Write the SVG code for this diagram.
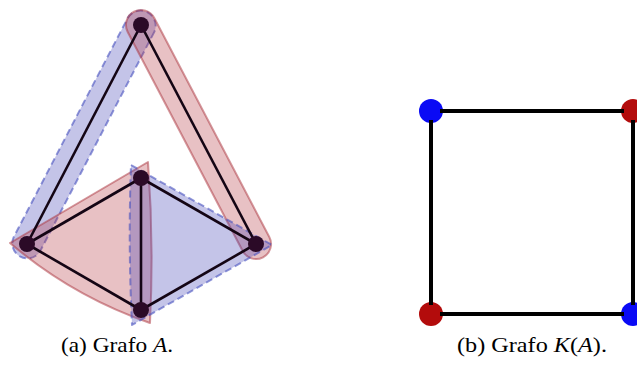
<svg xmlns="http://www.w3.org/2000/svg" width="637" height="367" viewBox="0 0 637 367">
<style>
.blue{fill:rgb(60,60,180);fill-opacity:0.3;stroke:rgb(70,80,190);stroke-opacity:0.6;stroke-width:2;stroke-dasharray:7 4;stroke-linejoin:round}
.red{fill:rgb(180,50,60);fill-opacity:0.3;stroke:rgb(170,50,60);stroke-opacity:0.5;stroke-width:2;stroke-linejoin:round}
.e{stroke:#140514;stroke-width:2.6;fill:none}
.v{fill:#2b0a27}
.k{stroke:#000;stroke-width:4;fill:none}
.kb{fill:#0a0af5}
.kr{fill:#b30c0c}
.cap{font-family:"Liberation Serif","DejaVu Serif",serif;font-size:21px;fill:#000}
</style>
<g id="hyperedges">
<path class="blue" d="M154.3,31.9 L40.3,250.9 A15,15 0 0 1 13.7,237.1 L127.7,18.1 A15,15 0 0 1 154.3,31.9 Z"/>
<path class="red" d="M154.3,18 L269.3,237 A15,15 0 0 1 242.7,251 L127.7,32 A15,15 0 0 1 154.3,18 Z"/>
<path class="red" d="M10,243 L148,162 Q154,242 150,323 Q72,296 10,243 Z"/>
<path class="blue" d="M131,165 L272,245 L132,325 Q128,245 131,165 Z"/>
</g>
<g id="edges">
<line class="e" x1="141" y1="25" x2="27" y2="244"/>
<line class="e" x1="141" y1="25" x2="256" y2="244"/>
<line class="e" x1="27" y1="244" x2="141" y2="178"/>
<line class="e" x1="27" y1="244" x2="141" y2="310"/>
<line class="e" x1="141" y1="178" x2="141" y2="310"/>
<line class="e" x1="141" y1="178" x2="256" y2="244"/>
<line class="e" x1="141" y1="310" x2="256" y2="244"/>
</g>
<g id="A-top"><circle class="v" cx="141" cy="25" r="8"/></g>
<g id="A-left"><circle class="v" cx="27" cy="244" r="8"/></g>
<g id="A-midtop"><circle class="v" cx="141" cy="178" r="8"/></g>
<g id="A-midbottom"><circle class="v" cx="141" cy="310" r="8"/></g>
<g id="A-right"><circle class="v" cx="256" cy="244" r="8"/></g>
<g id="K-tl"><circle class="kb" cx="431" cy="111" r="12"/></g>
<g id="K-tr"><circle class="kr" cx="633" cy="111" r="12"/></g>
<g id="K-bl"><circle class="kr" cx="431" cy="314" r="12"/></g>
<g id="K-br"><circle class="kb" cx="633" cy="314" r="12"/></g>
<g id="K-edges">
<line class="k" x1="440" y1="111" x2="624" y2="111"/>
<line class="k" x1="440" y1="314" x2="624" y2="314"/>
<line class="k" x1="431" y1="120" x2="431" y2="305"/>
<line class="k" x1="633" y1="120" x2="633" y2="305"/>
</g>
<text class="cap" x="117" y="352" text-anchor="middle" textLength="112" lengthAdjust="spacingAndGlyphs">(a) Grafo <tspan font-style="italic">A</tspan>.</text>
<text class="cap" x="532" y="352" text-anchor="middle" textLength="150" lengthAdjust="spacingAndGlyphs">(b) Grafo <tspan font-style="italic">K</tspan>(<tspan font-style="italic">A</tspan>).</text>
</svg>
